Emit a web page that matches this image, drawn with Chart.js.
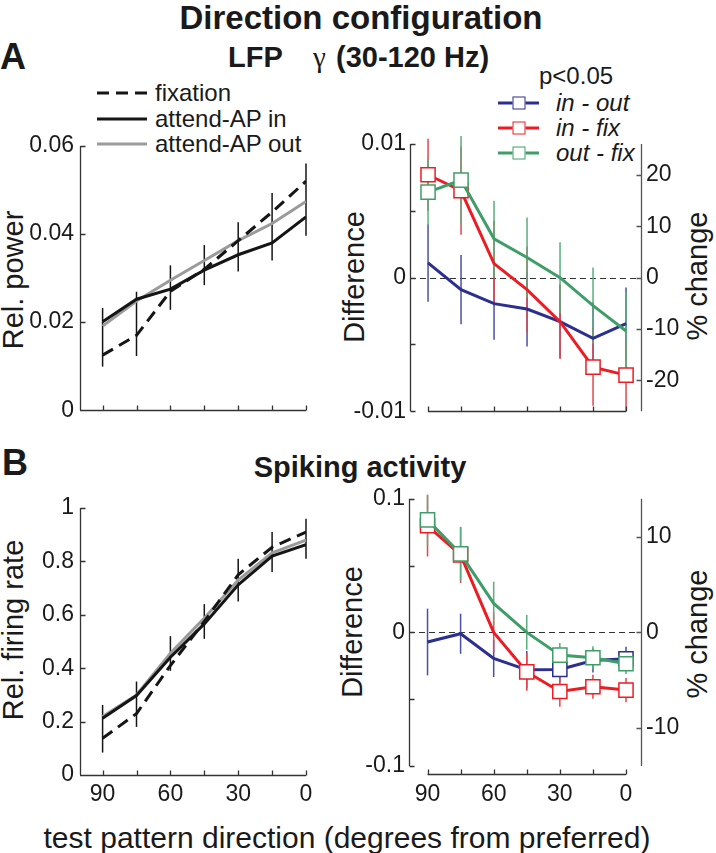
<!DOCTYPE html>
<html>
<head>
<meta charset="utf-8">
<script src="https://cdn.jsdelivr.net/npm/chart.js@4.4.1/dist/chart.umd.min.js"></script>
<style>
  body { margin: 0; background: #fff; }
  #fig { position: relative; width: 716px; height: 853px; overflow: hidden;
         font-family: "Liberation Sans", Arial, sans-serif; color: #1a1a1a; }
  #fig canvas { position: absolute; }
  .t { position: absolute; white-space: nowrap; line-height: 1; transform: translate(-50%, -50%); }
  .l { position: absolute; white-space: nowrap; line-height: 1; transform: translateY(-50%); }
  .b { font-weight: bold; }
  .rot { transform: translate(-50%, -50%) rotate(-90deg); }
  .ln { position: absolute; height: 3px; transform: translateY(-50%); }
  .sq { position: absolute; width: 11px; height: 11px; background: #fff; transform: translate(-50%, -50%); }
</style>
</head>
<body>
<div id="fig">
  <div class="t b" style="left:361px; top:17px; font-size:33px;">Direction configuration</div>
  <div class="l b" style="left:0px; top:57px; font-size:36px;">A</div>
  <div class="l b" style="left:228px; top:57px; font-size:29px;">LFP</div>
  <div class="l" style="left:313px; top:57px; font-size:29px; font-family:'Liberation Serif', serif;">γ</div>
  <div class="l b" style="left:336px; top:57px; font-size:29px;">(30-120 Hz)</div>

  <div class="ln" style="left:97px; top:93px; width:50px; background:repeating-linear-gradient(90deg,#151515 0 12px,transparent 12px 19px);"></div>
  <div class="l" style="left:155px; top:93px; font-size:24px;">fixation</div>
  <div class="ln" style="left:97px; top:119px; width:50px; background:#151515;"></div>
  <div class="l" style="left:155px; top:119px; font-size:24px;">attend-AP in</div>
  <div class="ln" style="left:97px; top:144px; width:50px; background:#9b9b9b;"></div>
  <div class="l" style="left:155px; top:144px; font-size:24px;">attend-AP out</div>

  <div class="l" style="left:539px; top:76px; font-size:24px;">p&lt;0.05</div>
  <div class="ln" style="left:498px; top:103px; width:41px; background:#2b2f8f;"></div>
  <div class="sq" style="left:519px; top:103px; border:1.5px solid #2b2f8f;"></div>
  <div class="l" style="left:556px; top:103px; font-size:24px; font-style:italic;">in - out</div>
  <div class="ln" style="left:498px; top:128px; width:41px; background:#ec1c24;"></div>
  <div class="sq" style="left:519px; top:128px; border:1.5px solid #ec1c24;"></div>
  <div class="l" style="left:556px; top:128px; font-size:24px; font-style:italic;">in - fix</div>
  <div class="ln" style="left:498px; top:153px; width:41px; background:#3f9e68;"></div>
  <div class="sq" style="left:519px; top:153px; border:1.5px solid #3f9e68;"></div>
  <div class="l" style="left:556px; top:153px; font-size:24px; font-style:italic;">out - fix</div>

  <div class="t rot" style="left:13px; top:280px; font-size:29px;">Rel. power</div>
  <div class="t rot" style="left:354px; top:277px; font-size:29px;">Difference</div>
  <div class="t rot" style="left:697px; top:276px; font-size:29px;">% change</div>

  <div class="l b" style="left:2px; top:463px; font-size:36px;">B</div>
  <div class="t b" style="left:360px; top:467px; font-size:29px;">Spiking activity</div>

  <div class="t rot" style="left:13px; top:630px; font-size:29px;">Rel. firing rate</div>
  <div class="t rot" style="left:352px; top:632px; font-size:29px;">Difference</div>
  <div class="t rot" style="left:697px; top:634px; font-size:29px;">% change</div>

  <div class="t" style="left:347px; top:838px; font-size:30px;">test pattern direction (degrees from preferred)</div>

  <canvas id="lfpAbs" width="340" height="310" style="left:0px; top:120px;"></canvas>
  <canvas id="lfpDiff" width="376" height="310" style="left:340px; top:120px;"></canvas>
  <canvas id="spkAbs" width="340" height="330" style="left:0px; top:480px;"></canvas>
  <canvas id="spkDiff" width="376" height="330" style="left:340px; top:480px;"></canvas>
</div>

<script>
// test pattern direction, degrees from preferred
const directions = [90, 75, 60, 45, 30, 15, 0];
const dirLabels = [90, 60, 30, 0];

// A, LFP gamma relative power
const lfpFixation = [0.0125, 0.017, 0.027, 0.032, 0.0385, 0.045, 0.052];
const lfpAttIn    = [0.0201, 0.0252, 0.0275, 0.0318, 0.0353, 0.038, 0.0439];
const lfpAttOut   = [0.0191, 0.0248, 0.0295, 0.034, 0.0385, 0.0424, 0.0474];
const lfpErrLow   = [0.0099, 0.0123, 0.0228, 0.0284, 0.0315, 0.034, 0.0396];
const lfpErrHigh  = [0.0232, 0.0269, 0.0329, 0.0375, 0.0427, 0.0493, 0.056];
const lfpAbsTicks = [0, 0.02, 0.04, 0.06];
const lfpAbsLabels = ['0', '0.02', '0.04', '0.06'];

// A, LFP differences (mean, sem, significant p<0.05)
const lfpInOut     = [0.0011, -0.0009, -0.00195, -0.00235, -0.0033, -0.00455, -0.00345];
const lfpInOutErr  = [0.0029, 0.0026, 0.0027, 0.0028, 0.0027, 0.0027, 0.0027];
const lfpInOutSig  = [0, 0, 0, 0, 0, 0, 0];
const lfpInFix     = [0.0077, 0.0065, 0.00105, -0.0009, -0.0033, -0.0067, -0.0073];
const lfpInFixErr  = [0.0027, 0.0033, 0.0032, 0.0032, 0.0028, 0.0029, 0.0027];
const lfpInFixSig  = [1, 1, 0, 0, 0, 1, 1];
const lfpOutFix    = [0.0064, 0.0073, 0.0029, 0.0015, 0.0, -0.0021, -0.004];
const lfpOutFixErr = [0.0025, 0.0033, 0.00285, 0.003, 0.00265, 0.00285, 0.0029];
const lfpOutFixSig = [1, 1, 0, 0, 0, 0, 0];
const lfpDiffTicks = [-0.01, -0.005, 0, 0.005, 0.01];
const lfpDiffLabels = ['-0.01', '', '0', '', '0.01'];
const lfpPctTicks = [-20, -10, 0, 10, 20];

// B, spiking activity relative firing rate
const spkFixation = [0.1375, 0.23, 0.41, 0.575, 0.75, 0.853, 0.91];
const spkAttIn    = [0.2125, 0.2975, 0.441, 0.566, 0.7125, 0.82, 0.8625];
const spkAttOut   = [0.219, 0.30, 0.456, 0.5875, 0.73, 0.8325, 0.88];
const spkErrLow   = [0.084, 0.18, 0.39, 0.51, 0.65, 0.76, 0.81];
const spkErrHigh  = [0.2625, 0.35, 0.52, 0.64, 0.81, 0.91, 0.96];
const spkAbsTicks = [0, 0.2, 0.4, 0.6, 0.8, 1];
const spkAbsLabels = ['0', '0.2', '0.4', '0.6', '0.8', '1'];

// B, spiking differences
const spkInOut     = [-0.0072, -0.001, -0.0195, -0.028, -0.0277, -0.021, -0.0198];
const spkInOutErr  = [0.025, 0.015, 0.014, 0.014, 0.010, 0.009, 0.009];
const spkInOutSig  = [0, 0, 0, 0, 1, 0, 1];
const spkInFix     = [0.0798, 0.058, 0.0, -0.0296, -0.0442, -0.0407, -0.0432];
const spkInFixErr  = [0.023, 0.021, 0.015, 0.014, 0.0114, 0.009, 0.009];
const spkInFixSig  = [1, 1, 0, 1, 1, 1, 1];
const spkOutFix    = [0.0842, 0.0588, 0.0217, 0.0, -0.017, -0.019, -0.0235];
const spkOutFixErr = [0.019, 0.02, 0.0163, 0.013, 0.009, 0.0086, 0.0077];
const spkOutFixSig = [1, 1, 0, 0, 1, 1, 1];
const spkDiffTicks = [-0.1, -0.05, 0, 0.05, 0.1];
const spkDiffLabels = ['-0.1', '', '0', '', '0.1'];
const spkPctTicks = [-10, 0, 10];

const BLUE = '#2b2f8f', RED = '#ec1c24', GREEN = '#3f9e68';
const INK = '#151515', GREY = '#9b9b9b';

Chart.defaults.font.family = '"Liberation Sans", Arial, sans-serif';
Chart.defaults.font.size = 23;
Chart.defaults.color = '#1a1a1a';

const pts = vals => vals.map((v, i) => ({ x: directions[i], y: v }));

// MATLAB style axes: inward ticks, plain lines, error bars
const matlabAxes = {
  id: 'matlabAxes',
  beforeDatasetsDraw(chart, args, opts) {
    const { ctx, chartArea: a, scales: { y } } = chart;
    ctx.save();
    if (opts.zeroLine) {
      const py = Math.round(y.getPixelForValue(0)) + 0.5;
      ctx.strokeStyle = '#333';
      ctx.lineWidth = 1;
      ctx.setLineDash([6, 4]);
      ctx.beginPath();
      ctx.moveTo(a.left, py);
      ctx.lineTo(a.right, py);
      ctx.stroke();
      ctx.setLineDash([]);
    }
    for (let i = chart.data.datasets.length - 1; i >= 0; i--) {
      const ds = chart.data.datasets[i];
      if (!ds.errLow) continue;
      const meta = chart.getDatasetMeta(i);
      ctx.strokeStyle = ds.errColor;
      ctx.lineWidth = 1.5;
      meta.data.forEach((el, j) => {
        ctx.beginPath();
        ctx.moveTo(el.x, y.getPixelForValue(ds.errLow[j]));
        ctx.lineTo(el.x, y.getPixelForValue(ds.errHigh[j]));
        ctx.stroke();
      });
    }
    ctx.restore();
  },
  afterDraw(chart, args, opts) {
    const { ctx, chartArea: a, scales: { x, y, y2 } } = chart;
    const T = 5;
    ctx.save();
    ctx.lineWidth = 1.3;
    ctx.strokeStyle = '#333';
    ctx.beginPath();
    const yl = Math.round(a.left) + 0.5;
    ctx.moveTo(yl, y.getPixelForValue(y.max));
    ctx.lineTo(yl, y.getPixelForValue(y.min));
    opts.yTicks.forEach(v => {
      const py = Math.round(y.getPixelForValue(v)) + 0.5;
      ctx.moveTo(yl, py);
      ctx.lineTo(yl + T, py);
    });
    const xy = Math.round(a.bottom + (opts.xOffset || 0)) + 0.5;
    const x0 = opts.xFromData ? x.getPixelForValue(directions[0]) : a.left;
    const x1 = x.getPixelForValue(directions[directions.length - 1]);
    ctx.moveTo(x0, xy);
    ctx.lineTo(x1, xy);
    directions.forEach(d => {
      const px = Math.round(x.getPixelForValue(d)) + 0.5;
      ctx.moveTo(px, xy);
      ctx.lineTo(px, xy - T);
    });
    ctx.stroke();
    if (y2) {
      ctx.strokeStyle = '#555';
      ctx.beginPath();
      const yr = Math.round(a.right) + 0.5;
      ctx.moveTo(yr, a.top);
      ctx.lineTo(yr, a.bottom);
      opts.y2Ticks.forEach(v => {
        const py = Math.round(y2.getPixelForValue(v)) + 0.5;
        ctx.moveTo(yr, py);
        ctx.lineTo(yr - T, py);
      });
      ctx.stroke();
    }
    ctx.restore();
  }
};

function absDatasets(fix, attIn, attOut, lo, hi) {
  const base = { borderWidth: 3, pointRadius: 0, tension: 0, fill: false };
  return [
    { ...base, label: 'fixation', data: pts(fix), borderColor: INK, borderDash: [12, 7] },
    { ...base, label: 'attend-AP in', data: pts(attIn), borderColor: INK,
      errLow: lo, errHigh: hi, errColor: INK },
    { ...base, label: 'attend-AP out', data: pts(attOut), borderColor: GREY }
  ];
}

function diffDataset(label, vals, err, sig, color, errColor) {
  return {
    label, data: pts(vals), borderColor: color, borderWidth: 3, tension: 0,
    pointStyle: 'rect', pointRadius: sig.map(s => (s ? 10 : 0)),
    pointBackgroundColor: '#fff', pointBorderColor: color, pointBorderWidth: 1.5,
    errLow: vals.map((v, i) => v - err[i]), errHigh: vals.map((v, i) => v + err[i]),
    errColor
  };
}

function makeChart(id, cfg) {
  const scales = {
    x: {
      type: 'linear', reverse: true, min: cfg.xMin, max: cfg.xMax,
      grid: { display: false, drawTicks: false }, border: { display: false },
      afterBuildTicks: s => { s.ticks = dirLabels.map(v => ({ value: v })); },
      afterFit: s => { s.height = cfg.xHeight; },
      ticks: { display: cfg.xLabels, padding: cfg.xPad, autoSkip: false, maxRotation: 0,
               callback: v => String(v) }
    },
    y: {
      type: 'linear', min: cfg.yTicks[0], max: cfg.yTicks[cfg.yTicks.length - 1],
      grid: { display: false, drawTicks: false }, border: { display: false },
      afterBuildTicks: s => { s.ticks = cfg.yTicks.map(v => ({ value: v })); },
      afterFit: s => { s.width = cfg.yWidth; },
      ticks: { padding: cfg.yPad, autoSkip: false, callback: (v, i) => cfg.yLabels[i] }
    }
  };
  if (cfg.y2Ticks) {
    scales.y2 = {
      type: 'linear', position: 'right', min: -cfg.y2Max, max: cfg.y2Max,
      grid: { display: false, drawTicks: false }, border: { display: false },
      afterBuildTicks: s => { s.ticks = cfg.y2Ticks.map(v => ({ value: v })); },
      afterFit: s => { s.width = 60; },
      ticks: { padding: 5, autoSkip: false, callback: v => String(v) }
    };
  }
  return new Chart(document.getElementById(id), {
    type: 'line',
    data: { datasets: cfg.datasets },
    options: {
      responsive: false, animation: false,
      layout: { padding: { top: cfg.padTop, right: cfg.padRight, left: 0, bottom: 0 } },
      plugins: {
        legend: { display: false }, tooltip: { enabled: false },
        matlabAxes: { yTicks: cfg.yTicks, y2Ticks: cfg.y2Ticks, xFromData: !!cfg.y2Ticks,
                      xOffset: cfg.xOffset || 0, zeroLine: !!cfg.y2Ticks }
      },
      scales
    },
    plugins: [matlabAxes]
  });
}

makeChart('lfpAbs', {
  datasets: absDatasets(lfpFixation, lfpAttIn, lfpAttOut, lfpErrLow, lfpErrHigh),
  xMin: 0, xMax: 100, xHeight: 16, xLabels: false, xPad: 6,
  yTicks: lfpAbsTicks, yLabels: lfpAbsLabels, yWidth: 80, yPad: 6,
  padTop: 26, padRight: 34
});

makeChart('lfpDiff', {
  datasets: [
    diffDataset('out - fix', lfpOutFix, lfpOutFixErr, lfpOutFixSig, GREEN, '#5aae7e'),
    diffDataset('in - fix', lfpInFix, lfpInFixErr, lfpInFixSig, RED, '#e0474d'),
    diffDataset('in - out', lfpInOut, lfpInOutErr, lfpInOutSig, BLUE, '#4a4fa6')
  ],
  xMin: -6.8, xMax: 98.2, xHeight: 17, xLabels: false, xPad: 6,
  yTicks: lfpDiffTicks, yLabels: lfpDiffLabels, yWidth: 70, yPad: 4,
  y2Ticks: lfpPctTicks, y2Max: 26,
  padTop: 24, padRight: 15
});

makeChart('spkAbs', {
  datasets: absDatasets(spkFixation, spkAttIn, spkAttOut, spkErrLow, spkErrHigh),
  xMin: 0, xMax: 100, xHeight: 35, xLabels: true, xPad: 6,
  yTicks: spkAbsTicks, yLabels: spkAbsLabels, yWidth: 80, yPad: 6,
  padTop: 28, padRight: 34
});

makeChart('spkDiff', {
  datasets: [
    diffDataset('out - fix', spkOutFix, spkOutFixErr, spkOutFixSig, GREEN, '#5aae7e'),
    diffDataset('in - fix', spkInFix, spkInFixErr, spkInFixSig, RED, '#e0474d'),
    diffDataset('in - out', spkInOut, spkInOutErr, spkInOutSig, BLUE, '#4a4fa6')
  ],
  xMin: -6.8, xMax: 98.4, xHeight: 44, xLabels: true, xPad: 15, xOffset: 8,
  yTicks: spkDiffTicks, yLabels: spkDiffLabels, yWidth: 69, yPad: 4,
  y2Ticks: spkPctTicks, y2Max: 14,
  padTop: 16, padRight: 15
});
</script>
</body>
</html>
